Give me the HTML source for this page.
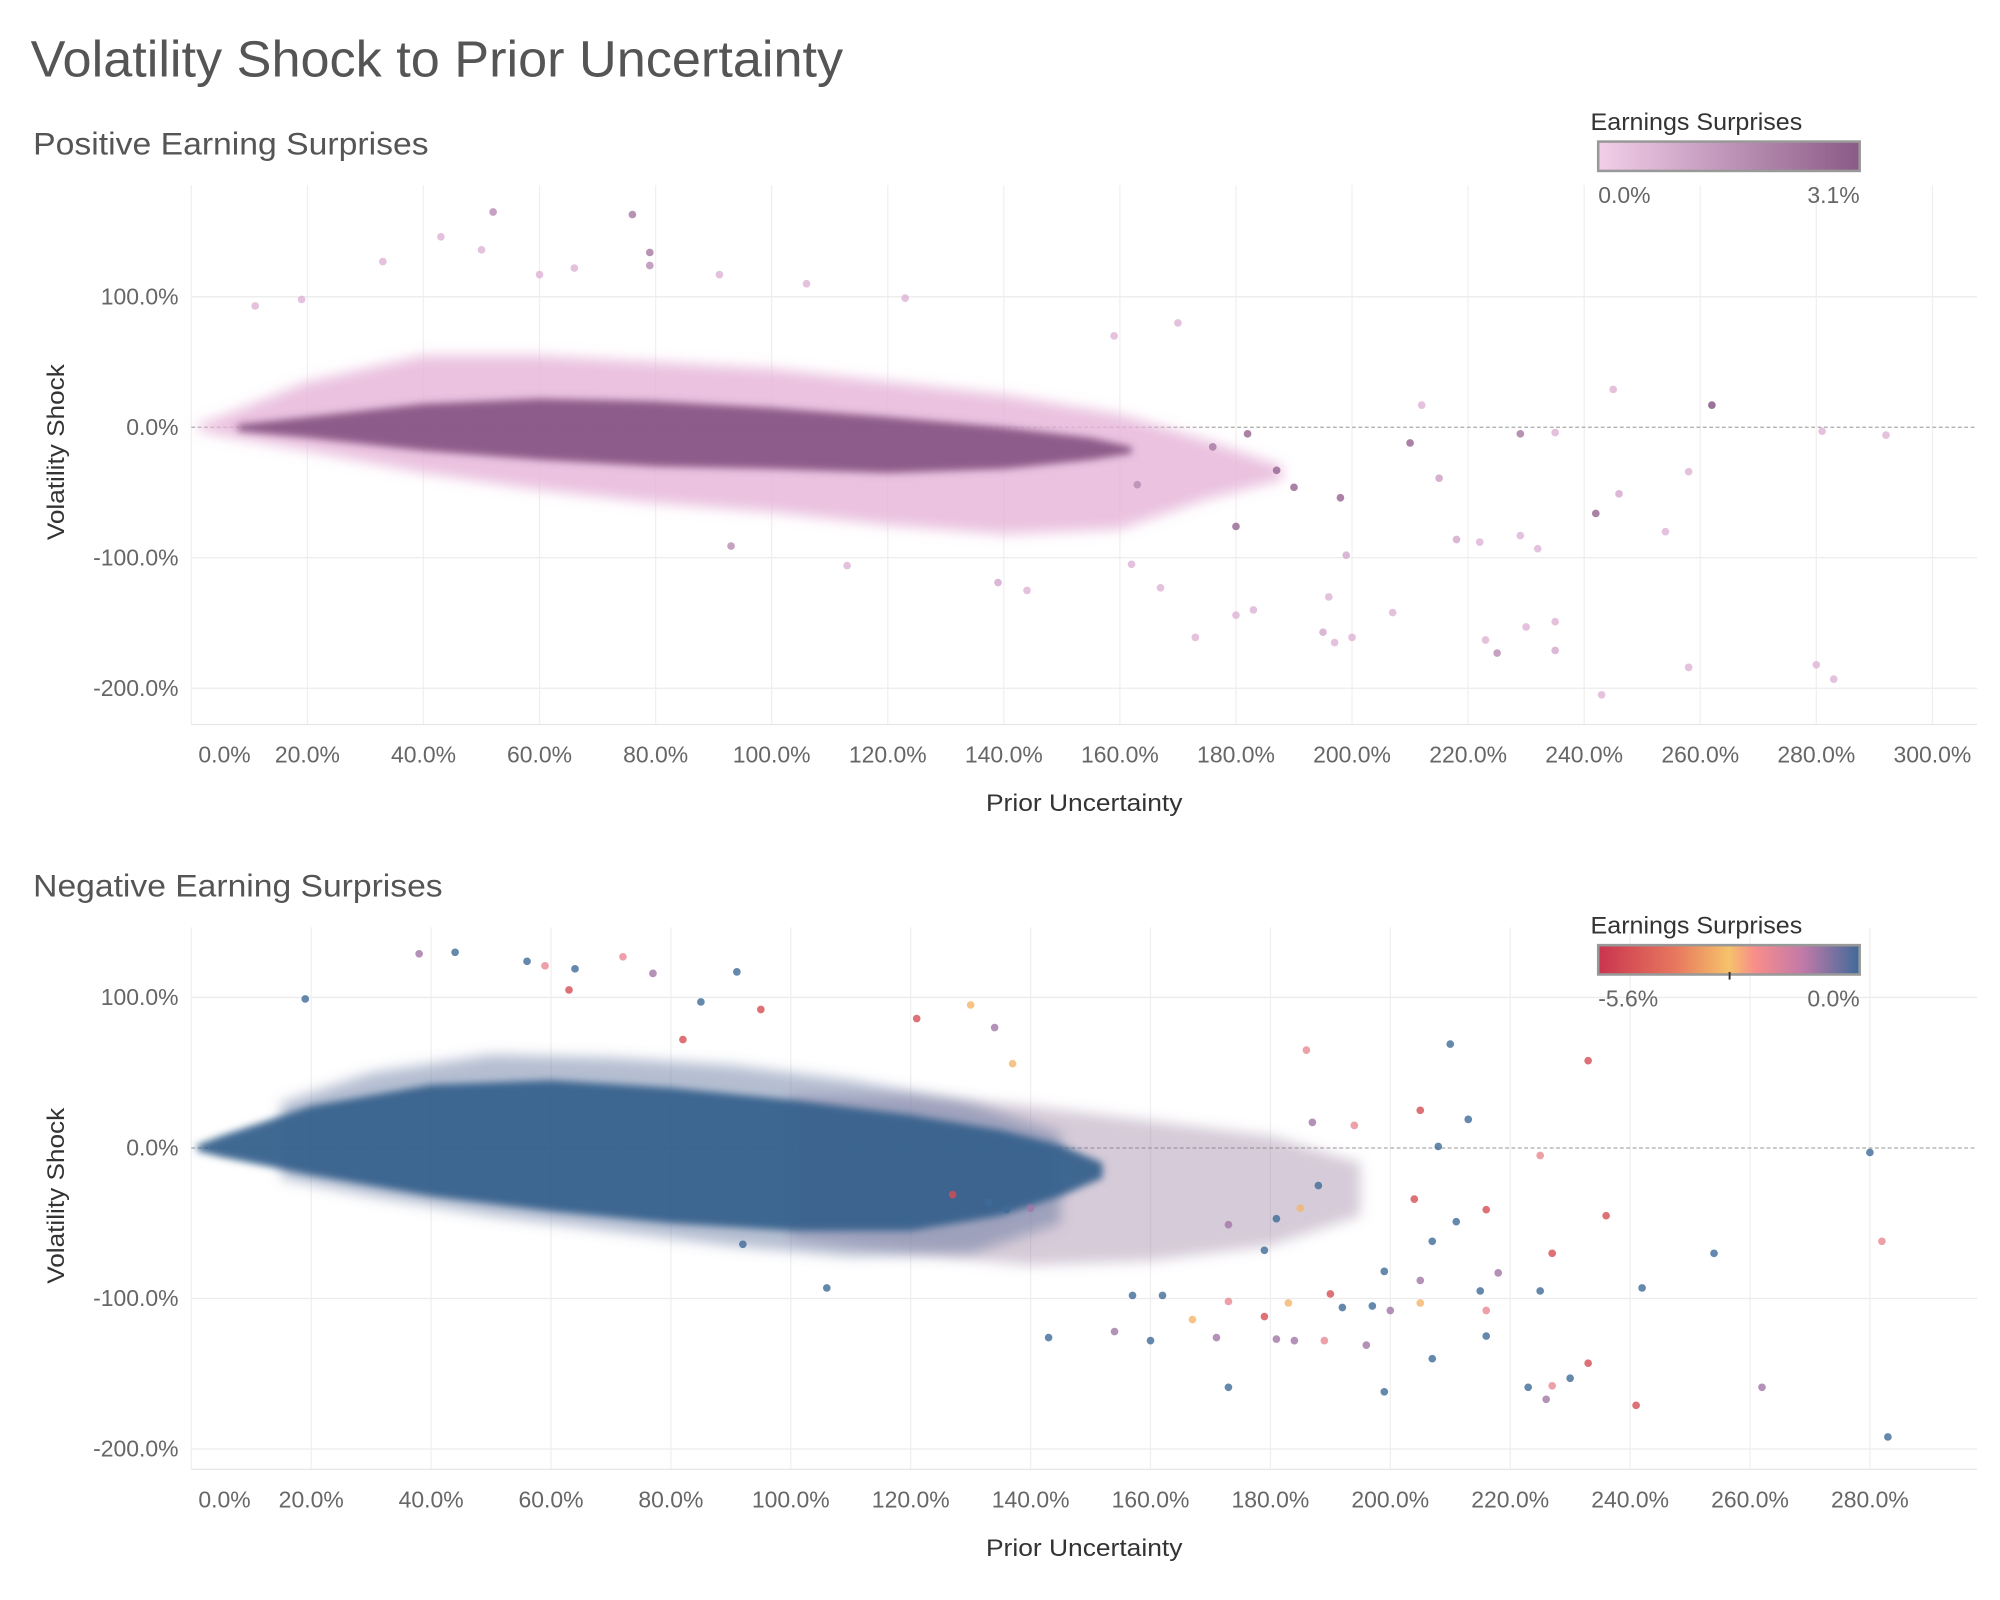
<!DOCTYPE html>
<html><head><meta charset="utf-8"><style>
html,body{margin:0;padding:0;background:#fff}
svg{display:block;font-family:"Liberation Sans",sans-serif}
</style></head><body>
<svg id="chart" width="2000" height="1600" viewBox="0 0 1568 1254.4" xmlns="http://www.w3.org/2000/svg">
<defs>
<filter id="soft" x="-10%" y="-20%" width="120%" height="140%"><feGaussianBlur stdDeviation="5"/></filter>
<filter id="soft2" x="-10%" y="-20%" width="120%" height="140%"><feGaussianBlur stdDeviation="3"/></filter>
<linearGradient id="gPos" x1="0" x2="1"><stop offset="0" stop-color="#f2cfe9"/><stop offset="1" stop-color="#8a5a86"/></linearGradient>
<linearGradient id="gNeg" x1="0" x2="1">
<stop offset="0" stop-color="#c9344f"/><stop offset="0.3" stop-color="#e8795e"/><stop offset="0.5" stop-color="#f6c26b"/><stop offset="0.6" stop-color="#f88d8a"/><stop offset="0.78" stop-color="#c27aa8"/><stop offset="1" stop-color="#3f6a99"/></linearGradient>
</defs>
<text x="24" y="60" font-size="40" fill="#555" textLength="637" lengthAdjust="spacingAndGlyphs">Volatility Shock to Prior Uncertainty</text>
<text x="26" y="121" font-size="25" fill="#555" textLength="310" lengthAdjust="spacingAndGlyphs">Positive Earning Surprises</text>
<text x="26" y="703" font-size="25" fill="#555" textLength="321" lengthAdjust="spacingAndGlyphs">Negative Earning Surprises</text>
<g id="top"></g>
<g id="bot"></g>
<g>
<text x="1247" y="102" font-size="19" fill="#333" textLength="166" lengthAdjust="spacingAndGlyphs">Earnings Surprises</text>
<rect x="1253" y="111" width="205" height="23" fill="url(#gPos)" stroke="#999" stroke-width="2"/>
<text x="1253" y="159" font-size="18" fill="#666">0.0%</text>
<text x="1458" y="159" font-size="18" fill="#666" text-anchor="end">3.1%</text>
</g>
<g>
<text x="1247" y="732" font-size="19" fill="#333" textLength="166" lengthAdjust="spacingAndGlyphs">Earnings Surprises</text>
<rect x="1253" y="741" width="205" height="23" fill="url(#gNeg)" stroke="#999" stroke-width="2"/>
<line x1="1356" y1="762" x2="1356" y2="768" stroke="#333" stroke-width="1.5"/>
<text x="1253" y="789" font-size="18" fill="#666">-5.6%</text>
<text x="1458" y="789" font-size="18" fill="#666" text-anchor="end">0.0%</text>
</g>
</svg>
<script>
const NS="http://www.w3.org/2000/svg";
// ---- top chart data ----
const topXTicks=[0,20,40,60,80,100,120,140,160,180,200,220,240,260,280,300];
const topYTicks=[100,0,-100,-200];
const topEnvX=[1,5,20,40,60,80,100,120,140,160,175,188];
const topEnvUpper=[2,8,35,55,55,50,45,35,25,10,-10,-30];
const topEnvLower=[-2,-6,-18,-35,-48,-58,-65,-75,-82,-78,-55,-40];
const topCoreX=[8,20,40,60,80,100,120,140,155,162];
const topCoreUpper=[2,8,18,22,20,15,8,0,-8,-15];
const topCoreLower=[-3,-8,-18,-25,-30,-32,-35,-32,-25,-20];
const topPtX=[52,76,79,79,43,50,33,66,60,91,106,123,19,11,170,159,245,262,212,281,292,229,235,210,215,242,246,258,254,198,218,222,229,232,93,113,199,207,195,197,200,173,180,223,225,230,235,235,243,258,280,283,144,139,167,183,162,196,187,190,180,182,176,163];
const topPtY=[165,163,134,124,146,136,127,122,117,117,110,99,98,93,80,70,29,17,17,-3,-6,-5,-4,-12,-39,-66,-51,-34,-80,-54,-86,-88,-83,-93,-91,-106,-98,-142,-157,-165,-161,-161,-144,-163,-173,-153,-149,-171,-205,-184,-182,-193,-125,-119,-123,-140,-105,-130,-33,-46,-76,-5,-15,-44];
const topPtV=[1.5,2,2,1.5,0.5,0.5,0.5,0.5,0.5,0.5,0.5,0.5,0.5,0.5,0.5,0.5,0.5,3,0.5,0.5,0.5,2,0.5,2.5,1,2.5,0.8,0.5,0.5,2.5,0.8,0.5,0.5,0.5,1.5,0.5,0.8,0.5,0.8,0.5,0.5,0.5,0.5,0.5,1.5,0.5,0.5,0.8,0.5,0.5,0.5,0.5,0.5,0.8,0.5,0.5,0.5,0.5,2.5,2.5,2.5,2.5,2,1.5];
// ---- bottom chart data ----
const botXTicks=[0,20,40,60,80,100,120,140,160,180,200,220,240,260,280];
const botYTicks=[100,0,-100,-200];
const botMixX=[100,120,140,160,180,195];
const botMixUpper=[35,35,28,18,8,-10];
const botMixLower=[-60,-70,-78,-75,-65,-45];
const botFringeX=[15,30,50,70,90,110,130,145];
const botFringeUpper=[30,50,62,60,55,45,30,10];
const botFringeLower=[-20,-32,-45,-55,-65,-72,-70,-50];
const botEnvX=[1,5,20,40,60,80,100,120,135,145,152];
const botEnvUpper=[2,8,28,42,45,40,32,22,12,2,-10];
const botEnvLower=[-2,-6,-18,-32,-42,-50,-55,-55,-45,-32,-20];
const botPtX=[38,44,56,59,64,72,77,63,91,85,95,82,19,130,134,121,137,210,233,186,205,213,194,187,208,280,225,204,216,236,211,207,282,254,227,218,199,205,242,215,225,216,200,197,192,190,205,216,196,189,207,233,230,223,227,226,241,262,199,173,283,143,154,160,171,181,184,157,162,167,173,179,183,106,92,127,133,136,140,181,185,188,173,179];
const botPtY=[129,130,124,121,119,127,116,105,117,97,92,72,99,95,80,86,56,69,58,65,25,19,15,17,1,-3,-5,-34,-41,-45,-49,-62,-62,-70,-70,-83,-82,-88,-93,-95,-95,-108,-108,-105,-106,-97,-103,-125,-131,-128,-140,-143,-153,-159,-158,-167,-171,-159,-162,-159,-192,-126,-122,-128,-126,-127,-128,-98,-98,-114,-102,-112,-103,-93,-64,-31,-36,-41,-40,-47,-40,-25,-51,-68];
const botPtV=[-1,0,0,-2,0,-2,-1,-5,0,0,-5,-5,0,-3,-1,-5,-3,0,-5,-2,-5,0,-2,-1,0,0,-2,-5,-5,-5,0,0,-2,0,-5,-1,0,-1,0,0,0,-2,-1,0,0,-5,-3,0,-1,-2,0,-5,0,0,-2,-1,-5,-1,0,0,0,0,-1,0,-1,-1,-1,0,0,-3,-2,-5,-3,0,0,-5,0,0,-1,0,-3,0,-1,0];

const t1={x:v=>150+v*4.55,y:v=>335-v*1.023,top:145,bot:568,right:1550};
const t2={x:v=>150+v*4.7,y:v=>900-v*1.18,top:727,bot:1152,right:1550};
function mk(tag,attrs,parent){const e=document.createElementNS(NS,tag);for(const k in attrs)e.setAttribute(k,attrs[k]);parent.appendChild(e);return e;}
function hex(c){return [parseInt(c.slice(1,3),16),parseInt(c.slice(3,5),16),parseInt(c.slice(5,7),16)];}
function lerpStops(stops,t){t=Math.max(0,Math.min(1,t));for(let i=1;i<stops.length;i++){if(t<=stops[i][0]){const a=stops[i-1],b=stops[i];const f=(t-a[0])/(b[0]-a[0]||1);const A=hex(a[1]),B=hex(b[1]);return `rgb(${A.map((v,j)=>Math.round(v+(B[j]-v)*f)).join(',')})`;}}return stops[stops.length-1][1];}
const posStops=[[0,'#efc6e6'],[1,'#7e4b7b']];
const negStops=[[0,'#c9344f'],[0.3,'#e8795e'],[0.5,'#f6c26b'],[0.6,'#f88d8a'],[0.78,'#b879a8'],[1,'#3f6a99']];

function axes(g,s,xt,yt){
  xt.forEach(v=>{const l=mk('line',{x1:s.x(v),x2:s.x(v),y1:s.top,y2:s.bot,stroke:'#f0f0f0','stroke-width':1},g);
    
    
    const t=mk('text',{x:v===0?s.x(v)+26:s.x(v),y:s.bot+30,'font-size':18,fill:'#666','text-anchor':'middle'},g);t.textContent=v.toFixed(1)+'%';
    
    });
  yt.forEach(v=>{const l=mk('line',{x1:150,x2:s.right,y1:s.y(v),y2:s.y(v),stroke:v===0?'#aaa':'#ececec','stroke-width':1,'stroke-dasharray':v===0?'3,2':'none'},g);
    
    
    const t=mk('text',{x:140,y:s.y(v)+6,'font-size':18,fill:'#666','text-anchor':'end'},g);t.textContent=v.toFixed(1)+'%';
    
    });
  const b=mk('line',{x1:150,x2:s.right,y1:s.bot,y2:s.bot,stroke:'#e6e6e6','stroke-width':1},g);
  
  
  const xt2=mk('text',{x:850,y:s.bot+68,'font-size':19,fill:'#333','text-anchor':'middle',textLength:154,lengthAdjust:'spacingAndGlyphs'},g);xt2.textContent='Prior Uncertainty';
  
  
  const cy=(s.top+s.bot)/2-2;
  const yt2=mk('text',{x:50,y:cy,'font-size':19,fill:'#333','text-anchor':'middle',transform:`rotate(-90 50 ${cy})`,textLength:138,lengthAdjust:'spacingAndGlyphs'},g);yt2.textContent='Volatility Shock';
  
  
}
function env(g,s,xs,up,lo,fill,op,name,filt){
  const pts=xs.map((v,i)=>s.x(v)+','+s.y(up[i])).concat(xs.map((v,i)=>s.x(v)+','+s.y(lo[i])).reverse());
  const p=mk('polygon',{points:pts.join(' '),fill:fill,'fill-opacity':op,filter:`url(#${filt||'soft'})`,'stroke-linejoin':'round'},g);
  
  
}
function pts(g,s,xs,ys,vs,colorFn){
  xs.forEach((v,i)=>{const c=mk('circle',{cx:s.x(v),cy:s.y(ys[i]),r:3,fill:colorFn(vs[i]),'fill-opacity':0.8},g);
    
    });
}
const gt=document.getElementById('top'),gb=document.getElementById('bot');
axes(gt,t1,topXTicks,topYTicks);
env(gt,t1,topEnvX,topEnvUpper,topEnvLower,'#e6b3d8',0.8,'light-point-cloud');
env(gt,t1,topCoreX,topCoreUpper,topCoreLower,'#7e4b7b',0.85,'dark-point-cloud','soft2');
pts(gt,t1,topPtX,topPtY,topPtV,v=>lerpStops(posStops,v/3.1));
axes(gb,t2,botXTicks,botYTicks);
env(gb,t2,botMixX,botMixUpper,botMixLower,'#8a6a8e',0.35,'mixed-point-cloud');
env(gb,t2,botFringeX,botFringeUpper,botFringeLower,'#5a6f98',0.45,'fringe-point-cloud');
env(gb,t2,botEnvX,botEnvUpper,botEnvLower,'#36618c',0.95,'dense-point-cloud','soft2');
pts(gb,t2,botPtX,botPtY,botPtV,v=>lerpStops(negStops,(v+5.6)/5.6));
</script>
</body></html>
